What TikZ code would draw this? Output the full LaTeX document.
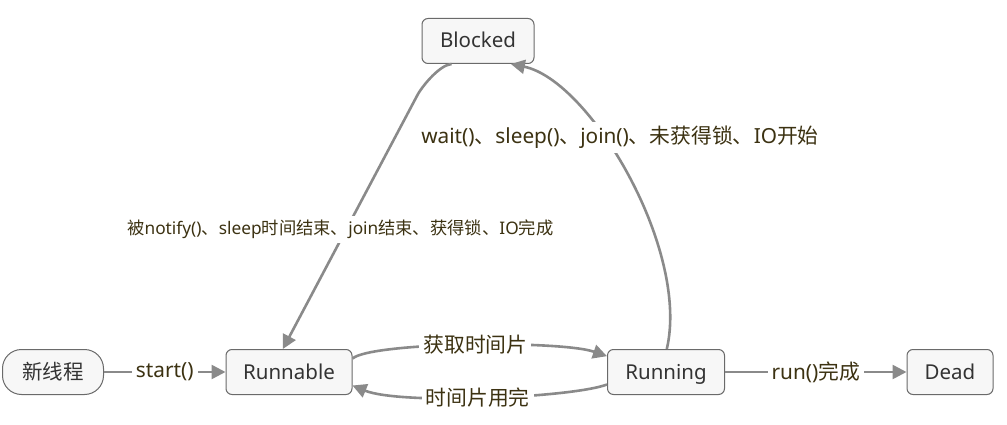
\documentclass[tikz,border=0pt]{standalone}
\usepackage{fontspec}
\setmainfont{Noto Sans}
\newfontfamily\zhfont{Noto Sans CJK SC}
\newcommand{\zhtxt}[1]{{\zhfont #1}}
\usetikzlibrary{arrows.meta}
\definecolor{edgegray}{HTML}{8A8A8A}
\definecolor{boxline}{HTML}{6A6A6A}
\definecolor{boxfill}{HTML}{F7F7F7}
\definecolor{boxtext}{HTML}{333333}
\definecolor{lbltext}{HTML}{3C3212}
\tikzset{>={Triangle[length=14pt,width=14pt]}}
\tikzset{
  state/.style={draw=boxline, fill=boxfill, line width=1pt, rounded corners=6pt,
    minimum height=45pt, inner sep=0pt, text height=16pt, text depth=2pt,
    text=boxtext, font=\fontsize{20.5}{24}\selectfont},
  trans/.style={->, draw=edgegray, line width=2.6pt},
  lbl/.style={fill=white, inner sep=4pt, text=lbltext, font=\fontsize{20.8}{24}\selectfont},
  smalllbl/.style={lbl, font=\fontsize{17.3}{20}\selectfont}
}

\begin{document}
\begin{tikzpicture}[x=1pt, y=1pt]
\useasboundingbox (0,0) rectangle (1007,-425);

\node[state, minimum width=101pt, rounded corners=19pt] (new) at (53,-372) {\zhtxt{新线程}};
\node[state, minimum width=126pt] (runnable) at (289,-372) {Runnable};
\node[state, minimum width=117pt] (running) at (666,-372) {Running};
\node[state, minimum width=86pt] (dead) at (950,-372) {Dead};
\node[state, minimum width=112pt] (blocked) at (478,-41) {Blocked};

\draw[trans] (new) -- node[lbl] {start()} (runnable);
\draw[trans] (running) -- node[lbl] {run()\zhtxt{完成}} (dead);

% time slice
\draw[trans] (runnable.12) .. controls (372,-342) and (560,-340) .. (running.165)
  node[lbl, pos=0.5, xshift=6pt] {\zhtxt{获取时间片}};
\draw[trans] (running.192) .. controls (570,-398) and (400,-405) .. (runnable.348)
  node[lbl, pos=0.5, xshift=-6pt] {\zhtxt{时间片用完}};

% blocking
\draw[trans] (running.88) .. controls (690,-250) and (590,-80) .. (blocked.325)
  node[lbl, pos=0.63, xshift=20pt, yshift=-4pt] {wait()\zhtxt{、}sleep()\zhtxt{、}join()\zhtxt{、未获得锁、}IO\zhtxt{开始}};
\draw[trans] (blocked.221) .. controls (440,-65) and (424,-84) .. (418,-94) -- (runnable.105)
  node[smalllbl, pos=0.53, xshift=-6pt] {\zhtxt{被}notify()\zhtxt{、}sleep\zhtxt{时间结束、}join\zhtxt{结束、获得锁、}IO\zhtxt{完成}};
\end{tikzpicture}
\end{document}
